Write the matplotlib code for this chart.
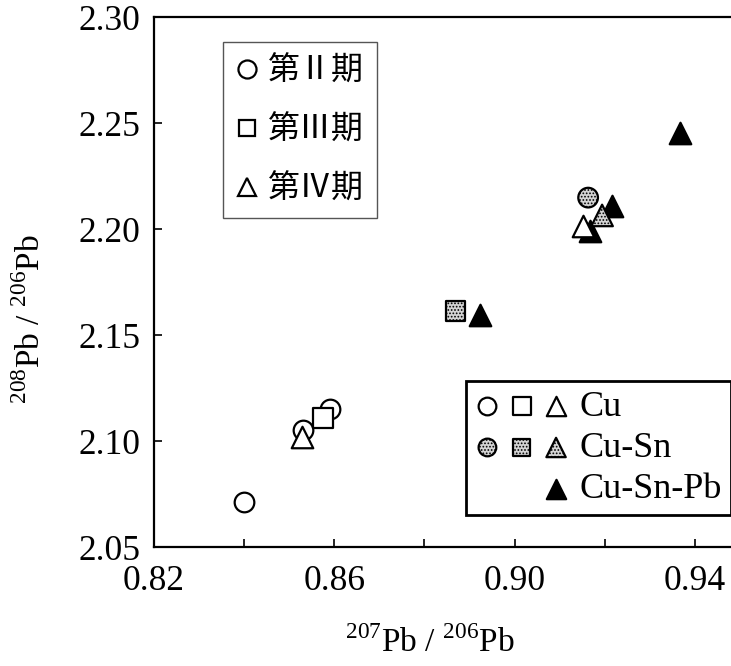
import matplotlib
matplotlib.use("Agg")
import matplotlib.pyplot as plt
from matplotlib.lines import Line2D
from matplotlib.legend_handler import HandlerTuple

plt.rcParams['font.family'] = ['Liberation Serif', 'Noto Sans CJK JP', 'DejaVu Sans']
plt.rcParams['mathtext.fontset'] = 'custom'
plt.rcParams['mathtext.rm'] = 'Liberation Serif'
plt.rcParams['hatch.linewidth'] = 0.8

# 207Pb/206Pb (x) and 208Pb/206Pb (y) by period and alloy type
p2_cu_x = [0.840, 0.853, 0.859]
p2_cu_y = [2.071, 2.105, 2.115]
p2_sn_x = [0.9163]
p2_sn_y = [2.2148]

p3_cu_x = [0.8575]
p3_cu_y = [2.111]
p3_sn_x = [0.8868]
p3_sn_y = [2.1613]

p4_cu_x = [0.8528, 0.9152]
p4_cu_y = [2.102, 2.2012]
p4_sn_x = [0.9194]
p4_sn_y = [2.2064]
p4_pb_x = [0.8923, 0.9167, 0.9216, 0.9367]
p4_pb_y = [2.1594, 2.1990, 2.2110, 2.2455]

period_labels = ['第Ⅱ期', '第Ⅲ期', '第Ⅳ期']
alloy_labels = ['Cu', 'Cu-Sn', 'Cu-Sn-Pb']

x_ticks = [0.82, 0.86, 0.90, 0.94]
y_ticks = [2.05, 2.10, 2.15, 2.20, 2.25, 2.30]

fig = plt.figure(figsize=(7.31, 6.66), dpi=100)
ax = fig.add_axes([154 / 731, 1 - 547 / 666, 581 / 731, 530 / 666])

S_CIRC, S_SQ, S_TRI = 200, 190, 240
LW = 1.6
STIPPLE = dict(facecolors='#d4d4d4', edgecolors='black', linewidths=LW, hatch='.....')
OPEN = dict(facecolors='white', edgecolors='black', linewidths=LW)

# black first, stippled on top, open markers last
pb_tri = ax.scatter(p4_pb_x, p4_pb_y, marker='^', s=S_TRI, facecolors='black',
                    edgecolors='black', linewidths=LW, zorder=3)
sn_circ = ax.scatter(p2_sn_x, p2_sn_y, marker='o', s=S_CIRC, zorder=4, **STIPPLE)
sn_sq = ax.scatter(p3_sn_x, p3_sn_y, marker='s', s=S_SQ, zorder=4, **STIPPLE)
sn_tri = ax.scatter(p4_sn_x, p4_sn_y, marker='^', s=S_TRI, zorder=4, **STIPPLE)
cu_circ = ax.scatter(p2_cu_x, p2_cu_y, marker='o', s=S_CIRC, zorder=5, **OPEN)
cu_sq = ax.scatter(p3_cu_x, p3_cu_y, marker='s', s=S_SQ, zorder=5, **OPEN)
cu_tri = ax.scatter(p4_cu_x, p4_cu_y, marker='^', s=S_TRI, zorder=5, **OPEN)

ax.set_xlim(0.82, 0.82 + 581 / 4508)
ax.set_ylim(2.05, 2.30)
ax.set_xticks(x_ticks)
ax.set_xticks([0.84, 0.88, 0.92], minor=True)
ax.set_yticks(y_ticks)
ax.set_xticklabels([f'{v:.2f}' for v in x_ticks])
ax.set_yticklabels([f'{v:.2f}' for v in y_ticks])
ax.tick_params(which='both', direction='in', length=6, width=1.2, top=False, right=False)
ax.tick_params(axis='x', labelsize=25.5, pad=13)
ax.tick_params(axis='y', labelsize=25.5, pad=10)
for sp in ax.spines.values():
    sp.set_linewidth(1.6)

ax.set_xlabel(r'$^{\mathrm{207}}$Pb / $^{\mathrm{206}}$Pb', fontsize=24)
ax.set_ylabel(r'$^{\mathrm{208}}$Pb / $^{\mathrm{206}}$Pb', fontsize=24)
ax.xaxis.set_label_coords(0.475, -0.15)
ax.yaxis.set_label_coords(-0.185, 0.43)

# period legend (marker shape)
shape_handles = [
    Line2D([], [], ls='', marker=m, ms=ms, mfc='white', mec='black', mew=1.6)
    for m, ms in [('o', 13), ('s', 12), ('^', 13)]
]
leg1 = ax.legend(shape_handles, period_labels, loc='upper left',
                 bbox_to_anchor=(0.1196, 0.953),
                 prop={'family': ['Noto Sans CJK JP'], 'size': 23},
                 frameon=True, fancybox=False, edgecolor='#555555', framealpha=1,
                 handlelength=0.7, handletextpad=0.3, labelspacing=0.85,
                 borderpad=0.4, borderaxespad=0)
leg1.get_frame().set_linewidth(1.0)
ax.add_artist(leg1)

# alloy legend (marker fill)
blank = Line2D([], [], ls='', marker=None)
alloy_handles = [(cu_circ, cu_sq, cu_tri), (sn_circ, sn_sq, sn_tri), (blank, blank, pb_tri)]
leg2 = ax.legend(alloy_handles, alloy_labels, loc='lower right',
                 bbox_to_anchor=(0.993, 0.06), fontsize=26,
                 handler_map={tuple: HandlerTuple(ndivide=None, pad=0.25)},
                 frameon=True, fancybox=False, edgecolor='black', framealpha=1,
                 handlelength=2.6, handletextpad=0.3, labelspacing=0.22,
                 borderpad=0.25, borderaxespad=0, markerscale=0.9)
leg2.get_frame().set_linewidth(2.0)

fig.savefig('out.png', dpi=100)
